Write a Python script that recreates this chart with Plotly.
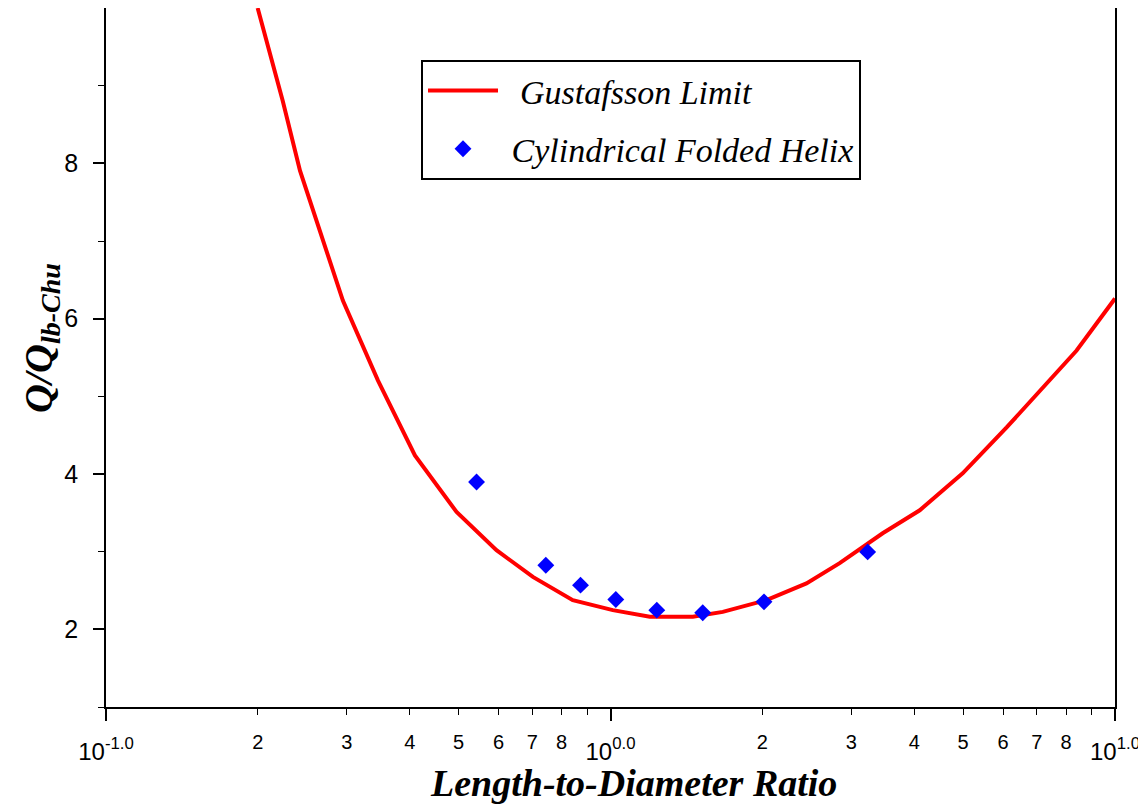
import plotly.graph_objects as go

# Gustafsson limit curve
limit_x = [0.1998, 0.224, 0.2424, 0.2948, 0.3459, 0.4096, 0.4953,
           0.5943, 0.7017, 0.8418, 1.0106, 1.1964, 1.4561, 1.6695, 2.0376, 2.4455,
           2.846, 3.4632, 4.1018, 4.989, 6.098, 7.318, 8.392, 10.0]
limit_y = [10.0, 8.805, 7.905, 6.233, 5.205, 4.240, 3.511,
           3.019, 2.675, 2.376, 2.247, 2.161, 2.161, 2.225, 2.376, 2.591,
           2.852, 3.237, 3.533, 4.009, 4.600, 5.166, 5.590, 6.259]

# Cylindrical folded helix points
helix_x = [0.5426, 0.7444, 0.8721, 1.0245, 1.2353, 1.5234, 2.015, 3.234]
helix_y = [3.897, 2.826, 2.569, 2.385, 2.247, 2.213, 2.354, 2.997]

decade_vals = [0.1, 1.0, 10.0]
decade_text = ["10<sup>-1.0</sup>", "10<sup>0.0</sup>", "10<sup>1.0</sup>"]
minor_x_vals = [0.2, 0.3, 0.4, 0.5, 0.6, 0.7, 0.8, 2, 3, 4, 5, 6, 7, 8]
minor_x_text = ["2", "3", "4", "5", "6", "7", "8", "2", "3", "4", "5", "6", "7", "8"]
minor_x_ticks = [0.2, 0.3, 0.4, 0.5, 0.6, 0.7, 0.8, 0.9, 2, 3, 4, 5, 6, 7, 8, 9]
y_major = [2, 4, 6, 8]
y_minor = [1, 3, 5, 7, 9]

x_title = "Length-to-Diameter Ratio"
y_title = "Q/Q<sub>lb-Chu</sub>"

SERIF = "Liberation Serif, Times New Roman, serif"
SANS = "Liberation Sans, Arial, sans-serif"
NB = "\u00a0"

# page is offset by the default 8px body margin
W, H = 1138, 797
PL, PR, PT, PB = 106, 1115, 8, 707   # plot edges in page pixels
OFF = 8


def px(p):
    return (p - PL) / (PR - PL)


def py(p):
    return (PB - p) / (PB - PT)


fig = go.Figure()
fig.add_trace(go.Scatter(
    x=limit_x, y=limit_y, mode="lines",
    name=NB * 2 + "Gustafsson Limit",
    line=dict(color="#FF0000", width=4),
    legendgroup="a",
))
fig.add_trace(go.Scatter(
    x=helix_x, y=helix_y, mode="markers",
    name=NB * 1 + "Cylindrical Folded Helix",
    marker=dict(symbol="diamond", size=13, color="#0000FF"),
    legendgroup="b",
    xaxis="x2",
))

fig.update_layout(
    width=W, height=H,
    margin=dict(l=PL - OFF, r=W - (PR - OFF), t=PT - OFF, b=H - (PB - OFF),
                autoexpand=False),
    paper_bgcolor="white", plot_bgcolor="white",
    showlegend=True,
    legend=dict(
        x=px(421), y=py(60), xanchor="left", yanchor="top",
        bordercolor="black", borderwidth=2, bgcolor="white",
        font=dict(family=SERIF, size=34, color="black", style="italic"),
        traceorder="grouped", tracegroupgap=11, itemwidth=70,
    ),
    xaxis=dict(
        type="log", range=[-1, 1], automargin=False,
        tickvals=decade_vals, ticktext=decade_text,
        ticks="outside", ticklen=12, tickwidth=1.5, tickcolor="black",
        tickfont=dict(family=SANS, size=24, color="black"),
        ticklabelstandoff=10,
        showline=True, linecolor="black", linewidth=1.5, mirror=True,
        showgrid=False, zeroline=False,
        minor=dict(tickvals=minor_x_ticks, ticks="outside", ticklen=6,
                   tickwidth=1.2, tickcolor="black", showgrid=False),
    ),
    xaxis2=dict(
        type="log", range=[-1, 1], overlaying="x", anchor="y", side="bottom",
        automargin=False,
        tickvals=minor_x_vals, ticktext=minor_x_text,
        ticks="", ticklen=0,
        tickfont=dict(family=SANS, size=20, color="black"),
        ticklabelstandoff=21,
        showline=False, showgrid=False, zeroline=False,
    ),
    yaxis=dict(
        range=[1, 10], automargin=False,
        tickvals=y_major,
        ticks="outside", ticklen=11, tickwidth=1.5, tickcolor="black",
        tickfont=dict(family=SANS, size=25, color="black"),
        ticklabelstandoff=10,
        showline=True, linecolor="black", linewidth=1.5, mirror=True,
        showgrid=False, zeroline=False,
        minor=dict(tickvals=y_minor, ticks="outside", ticklen=6,
                   tickwidth=1.2, tickcolor="black", showgrid=False),
    ),
    annotations=[
        dict(text=x_title, xref="paper", yref="paper",
             x=px(633), y=py(783),
             xanchor="center", yanchor="middle", showarrow=False,
             font=dict(family=SERIF, size=38, color="black",
                       weight="bold", style="italic")),
        dict(text=y_title, xref="paper", yref="paper",
             x=px(41), y=py(338), textangle=-90,
             xanchor="center", yanchor="middle", showarrow=False,
             font=dict(family=SERIF, size=40, color="black",
                       weight="bold", style="italic")),
    ],
)

fig.write_html("out.html")
